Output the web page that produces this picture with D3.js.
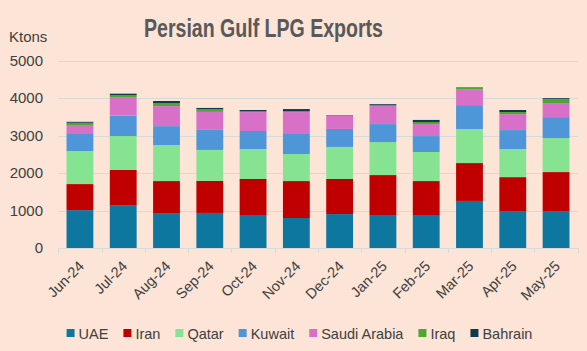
<!DOCTYPE html>
<html><head><meta charset="utf-8">
<script src="https://cdn.jsdelivr.net/npm/d3@7"></script>
<style>
html,body{margin:0;padding:0;background:#fce4d6;}
svg{display:block;font-family:"Liberation Sans Narrow","Liberation Sans",Arial,sans-serif;}
</style></head><body>
<svg id="c" width="587" height="351"></svg>
<script>
const months = ["Jun-24","Jul-24","Aug-24","Sep-24","Oct-24","Nov-24","Dec-24","Jan-25","Feb-25","Mar-25","Apr-25","May-25"];
const seriesNames = ["UAE","Iran","Qatar","Kuwait","Saudi Arabia","Iraq","Bahrain"];
const colors = ["#0e77a0","#c00000","#86e391","#4f96d9","#d870c8","#4ea72e","#0e3a4f"];
const UAE     = [1010,1130, 915, 935, 880, 800, 905, 880, 880,1255, 985, 985];
const Iran    = [ 695, 950, 870, 855, 960, 985, 935,1065, 905,1010, 905,1040];
const Qatar   = [ 880, 905, 960, 825, 800, 720, 855, 880, 775, 905, 750, 905];
const Kuwait  = [ 455, 545, 505, 535, 480, 535, 480, 480, 425, 640, 505, 560];
const Saudi   = [ 240, 480, 535, 480, 505, 585, 345, 480, 320, 425, 425, 375];
const Iraq    = [  60,  70,  80,  70,  20,  25,  25,  25,  55,  55,  55, 105];
const Bahrain = [  25,  35,  55,  35,  35,  55,   0,  25,  55,   0,  55,  25];
const yTicks = [0,1000,2000,3000,4000,5000];

(function(){
const seriesData = [UAE,Iran,Qatar,Kuwait,Saudi,Iraq,Bahrain];
const rows = months.map((m,i)=>{const r={month:m}; seriesNames.forEach((s,j)=>r[s]=seriesData[j][i]); return r;});
const stack = d3.stack().keys(seriesNames)(rows);

const svg = d3.select("#c");
const pLeft=58.3, pRight=577.7, pTop=60.5, pBottom=248;
const x = d3.scaleBand().domain(months).range([pLeft,pRight]).paddingInner(0.38).paddingOuter(0.19);
const y = d3.scaleLinear().domain([0,5000]).range([pBottom,pTop]);

svg.append("g").selectAll("line").data(yTicks.filter(t=>t>0)).join("line")
  .attr("x1",pLeft).attr("x2",pRight).attr("y1",d=>Math.round(y(d))+0.5).attr("y2",d=>Math.round(y(d))+0.5)
  .attr("stroke","#d9d9d9").attr("stroke-width",1);

svg.append("g").selectAll("text").data(yTicks).join("text")
  .attr("x",43).attr("y",d=>y(d)+5).attr("text-anchor","end")
  .attr("font-family","'Liberation Sans',Arial,sans-serif")
  .attr("font-size",15).attr("fill","#404040").text(d=>d);

svg.append("text").attr("x",9).attr("y",42).attr("font-family","'Liberation Sans',Arial,sans-serif")
  .attr("font-size",15).attr("fill","#404040").text("Ktons");

svg.append("g").selectAll("g").data(stack).join("g").attr("fill",(d,i)=>colors[i])
  .selectAll("rect").data(d=>d).join("rect")
  .attr("x",d=>x(d.data.month)).attr("width",x.bandwidth())
  .attr("y",d=>y(d[1])).attr("height",d=>Math.max(0,y(d[0])-y(d[1])));

const bounds = d3.range(months.length+1).map(i=>pLeft+i*(pRight-pLeft)/months.length);
svg.append("line").attr("x1",pLeft).attr("x2",pRight).attr("y1",pBottom+0.5).attr("y2",pBottom+0.5)
  .attr("stroke","#d9d9d9");
svg.append("g").selectAll("line").data(bounds).join("line")
  .attr("x1",d=>Math.round(d)+0.5).attr("x2",d=>Math.round(d)+0.5).attr("y1",pBottom).attr("y2",pBottom+5)
  .attr("stroke","#d9d9d9");

svg.append("g").selectAll("text").data(months).join("text")
  .attr("transform",d=>`translate(${x(d)+x.bandwidth()/2+5},${pBottom+19}) rotate(-45)`)
  .attr("text-anchor","end").attr("font-family","'Liberation Sans',Arial,sans-serif")
  .attr("font-size",14.5).attr("fill","#404040").text(d=>d);

svg.append("text").attr("x",263.5).attr("y",37).attr("text-anchor","middle")
  .attr("font-size",25).attr("font-weight","bold").attr("fill","#595959")
  .attr("textLength",239).attr("lengthAdjust","spacingAndGlyphs")
  .text("Persian Gulf LPG Exports");

const lg = svg.append("g");
const items = [];
seriesNames.forEach((s,i)=>{
  const g = lg.append("g");
  g.append("rect").attr("x",0).attr("y",-4).attr("width",8).attr("height",8).attr("fill",colors[i]);
  const t = g.append("text").attr("x",12).attr("y",5.5).attr("font-family","'Liberation Sans',Arial,sans-serif")
    .attr("font-size",14.5).attr("fill","#404040").text(s);
  const w = 12 + t.node().getComputedTextLength();
  items.push({g,w});
});
const gap = 15;
const total = d3.sum(items,d=>d.w)+gap*(items.length-1);
let px = 299.5 - total/2;
items.forEach(it=>{it.g.attr("transform",`translate(${px},333)`); px += it.w+gap;});
})();
</script>
</body></html>
